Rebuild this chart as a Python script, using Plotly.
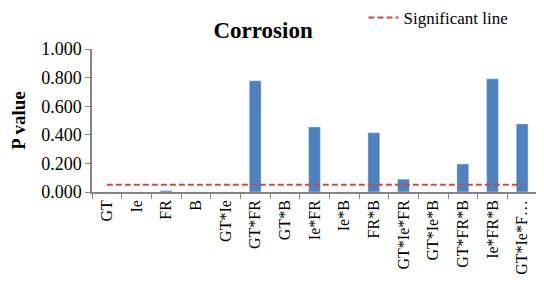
import plotly.graph_objects as go

categories = ["GT", "Ie", "FR", "B", "GT*Ie", "GT*FR", "GT*B", "Ie*FR", "Ie*B",
              "FR*B", "GT*Ie*FR", "GT*Ie*B", "GT*FR*B", "Ie*FR*B", "GT*Ie*F…"]
p_values = [0.0, 0.0, 0.01, 0.0, 0.0, 0.778, 0.0, 0.455, 0.0,
            0.415, 0.09, 0.0, 0.196, 0.792, 0.476]
significant = [0.05] * len(categories)
y_ticks = [0, 0.2, 0.4, 0.6, 0.8, 1.0]
y_tick_text = ["0.000", "0.200", "0.400", "0.600", "0.800", "1.000"]

font = "Liberation Serif"

fig = go.Figure()
fig.add_trace(go.Bar(x=categories, y=p_values, marker_color="#4F81BD",
                     width=0.4, showlegend=False))
fig.add_trace(go.Scatter(x=categories, y=significant, mode="lines",
                         line=dict(color="#C0504D", width=2, dash="6px,3px"),
                         name="Significant line"))

# page body has an 8px margin, so the figure is 8px smaller on each axis
fig.update_layout(
    width=536, height=283,
    margin=dict(l=84, r=7, t=41, b=99, autoexpand=False),
    paper_bgcolor="white", plot_bgcolor="white",
    font=dict(family=font, color="black", size=16),
    title=dict(text="<b>Corrosion</b>", x=0.476, xanchor="center", y=0.922, yanchor="middle",
               font=dict(size=23, family=font)),
    legend=dict(x=0.61, xanchor="left", y=0.965, yanchor="middle", yref="container",
                orientation="h", font=dict(size=17, family=font),
                bgcolor="rgba(0,0,0,0)"),
    bargap=0.6,
)
fig.update_xaxes(tickangle=-90, showline=True, linecolor="#868686", linewidth=1.5,
                 ticks="outside", tickson="boundaries", ticklen=5, tickcolor="#868686",
                 tickfont=dict(size=16, family=font), showgrid=False, automargin=False)
fig.update_yaxes(range=[0, 1.0], tickvals=y_ticks, ticktext=y_tick_text,
                 showline=True, linecolor="#868686", linewidth=1.5,
                 ticks="outside", ticklen=5, tickcolor="#868686",
                 tickfont=dict(size=18, family=font), showgrid=False, zeroline=False,
                 automargin=False,
                 title=dict(text="<b>P value</b>", font=dict(size=19, family=font), standoff=14))

fig.write_html("out.html")
